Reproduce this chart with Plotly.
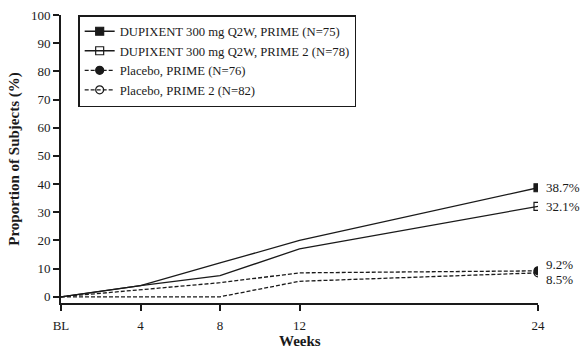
import plotly.graph_objects as go

# Visit schedule (weeks from baseline) and axis labels
weeks = [0, 4, 8, 12, 24]
week_labels = ["BL", "4", "8", "12", "24"]

# Proportion of subjects (%) at each visit
dupi_prime = [0, 4.0, 12.0, 20.0, 38.7]
dupi_prime2 = [0, 4.0, 7.5, 17.0, 32.1]
pbo_prime = [0, 2.5, 5.0, 8.5, 9.2]
pbo_prime2 = [0, 0.0, 0.0, 5.5, 8.5]

series_names = [
    "DUPIXENT 300 mg Q2W, PRIME (N=75)",
    "DUPIXENT 300 mg Q2W, PRIME 2 (N=78)",
    "Placebo, PRIME (N=76)",
    "Placebo, PRIME 2 (N=82)",
]

FONT = "Liberation Serif, Times New Roman, serif"
INK = "#1a1a1a"

styles = [
    dict(dash="solid", symbol="square"),
    dict(dash="solid", symbol="square-open"),
    dict(dash="4px,2px", symbol="circle"),
    dict(dash="4px,2px", symbol="circle-open"),
]

fig = go.Figure()
for name, vals, st in zip(series_names, [dupi_prime, dupi_prime2, pbo_prime, pbo_prime2], styles):
    line = dict(color=INK, width=1.3, dash=st["dash"])
    marker = dict(symbol=st["symbol"], size=8, color=INK, line=dict(color=INK, width=1.2))
    # trend line across all visits
    fig.add_trace(go.Scatter(x=weeks, y=vals, mode="lines", line=line,
                             showlegend=False, hoverinfo="skip"))
    # end-of-study marker, also carries the legend entry
    fig.add_trace(go.Scatter(x=weeks[-1:], y=vals[-1:], name=name, mode="lines+markers",
                             line=line, marker=marker))

# End-of-study value labels
end_labels = [(dupi_prime[-1], 0), (dupi_prime2[-1], 0), (pbo_prime[-1], 6), (pbo_prime2[-1], -7)]
for val, shift in end_labels:
    fig.add_annotation(x=weeks[-1], y=val, text=f"{val:.1f}%", showarrow=False,
                       xanchor="left", xshift=6, yshift=shift,
                       font=dict(family=FONT, size=13, color=INK))

# x-axis title placed under the tick labels
fig.add_annotation(x=0.5, xref="paper", y=-0.132, yref="paper", yanchor="middle",
                   text="<b>Weeks</b>", showarrow=False,
                   font=dict(family=FONT, size=15, color=INK))

fig.update_layout(
    width=582, height=350,
    margin=dict(l=61, r=44, t=15, b=47),
    plot_bgcolor="white", paper_bgcolor="white",
    font=dict(family=FONT, size=13, color=INK),
    showlegend=True,
    legend=dict(x=0.036, y=1.0, xanchor="left", yanchor="top",
                bordercolor=INK, borderwidth=1.5, bgcolor="white",
                font=dict(family=FONT, size=12.7, color=INK),
                tracegroupgap=0, itemwidth=30),
    xaxis=dict(range=[0, 24], tickvals=weeks, ticktext=week_labels,
               showline=True, linecolor=INK, linewidth=2, ticks="outside",
               ticklen=6, tickwidth=1.5, tickcolor=INK, showgrid=False, zeroline=False,
               ticklabelstandoff=3, automargin=False,
               tickfont=dict(family=FONT, size=13)),
    yaxis=dict(range=[-2.2, 100], tickvals=list(range(0, 101, 10)),
               showline=True, linecolor=INK, linewidth=2, ticks="outside",
               ticklen=6, tickwidth=1.5, tickcolor=INK, showgrid=False, zeroline=False,
               automargin=False,
               title=dict(text="<b>Proportion of Subjects (%)</b>", font=dict(family=FONT, size=15), standoff=8),
               tickfont=dict(family=FONT, size=13)),
)

fig.write_html("out.html")
